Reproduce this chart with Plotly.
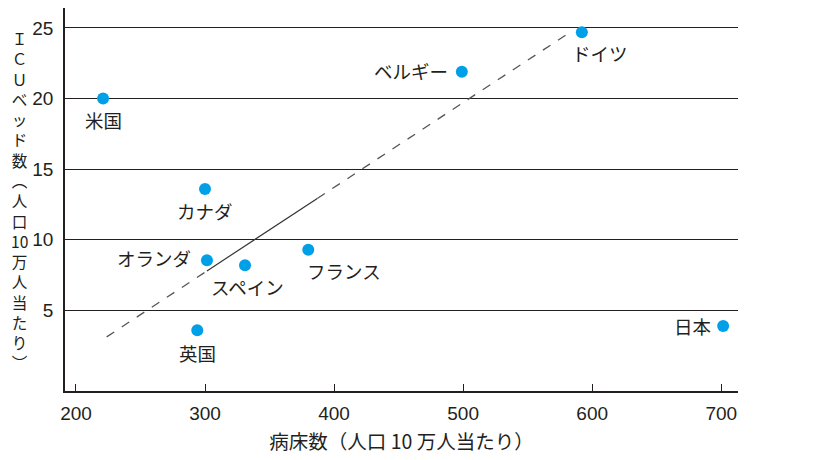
import plotly.graph_objects as go

# values
countries = ["米国", "カナダ", "オランダ", "スペイン", "フランス", "英国", "ベルギー", "ドイツ", "日本"]
beds = [221, 300, 301.5, 331, 380, 294, 499, 592, 701.5]
icu_beds = [20.0, 13.6, 8.55, 8.2, 9.3, 3.6, 21.9, 24.7, 3.9]

# trend line: dashed ends, solid middle
trend_x = [223.8, 301.5, 387, 581.4]
trend_y = [3.13, 7.8, 12.93, 24.6]

x_ticks = [200, 300, 400, 500, 600, 700]
y_ticks = [5, 10, 15, 20, 25]

ink = "#231f20"
dot = "#00a0e9"
jp_font = "Noto Sans CJK JP"
num_font = "Liberation Sans, Arial"

# where each country name sits relative to its dot (anchor, dx, dy in px)
label_pos = {
    "米国": ("center", 0, -21),
    "カナダ": ("center", 0, -22),
    "オランダ": ("right", -14, 2),
    "スペイン": ("center", 2, -22),
    "フランス": ("center", 36, -21),
    "英国": ("center", 0, -23),
    "ベルギー": ("right", -12, 1),
    "ドイツ": ("center", 18, -21),
    "日本": ("right", -10, 0),
}

fig = go.Figure()

fig.add_trace(go.Scatter(x=trend_x[:2], y=trend_y[:2], mode="lines",
                         line=dict(color="#555555", width=1.3, dash="dash")))
fig.add_trace(go.Scatter(x=trend_x[1:3], y=trend_y[1:3], mode="lines",
                         line=dict(color="#333333", width=1.2)))
fig.add_trace(go.Scatter(x=trend_x[2:], y=trend_y[2:], mode="lines",
                         line=dict(color="#555555", width=1.3, dash="dash")))

fig.add_trace(go.Scatter(x=beds, y=icu_beds, mode="markers",
                         marker=dict(color=dot, size=12, line=dict(width=0))))

for name, bx, by in zip(countries, beds, icu_beds):
    anchor, dx, dy = label_pos[name]
    fig.add_annotation(x=bx, y=by, xref="x", yref="y", text=name, showarrow=False,
                       xanchor=anchor, yanchor="middle", xshift=dx, yshift=dy,
                       font=dict(family=jp_font, size=18.5, color=ink))

# vertical y title, one character per line
y_title = ["Ｉ", "Ｃ", "Ｕ", "ベ", "ッ", "ド", "数", "︵", "人", "口", "10", "万", "人", "当", "た", "り", "︶"]
fig.add_annotation(xref="paper", yref="paper", x=-0.067, y=0.5, xanchor="center", yanchor="middle",
                   text="<br>".join(y_title), showarrow=False,
                   font=dict(family=jp_font, size=15.6, color=ink))

# page body adds an 8px margin, so the figure is a little smaller than the window
fig.update_layout(
    width=811, height=452,
    margin=dict(l=57, r=81, t=0, b=69),
    paper_bgcolor="white", plot_bgcolor="white",
    showlegend=False,
    font=dict(family=num_font, size=19, color=ink),
)
fig.update_xaxes(range=[191.5, 713], tickvals=x_ticks, showgrid=False, zeroline=False,
                 showline=True, linecolor=ink, linewidth=1.5,
                 ticks="inside", ticklen=7, tickwidth=1.3, tickcolor=ink,
                 ticklabelstandoff=4,
                 title=dict(text="病床数（人口 10 万人当たり）", standoff=13,
                            font=dict(family=jp_font, size=19.5, color=ink)))
fig.update_yaxes(range=[-0.7, 26.41], tickvals=y_ticks, showgrid=True, gridcolor=ink, gridwidth=1.3,
                 zeroline=False, showline=True, linecolor=ink, linewidth=1.5, ticks="",
                 ticklabelstandoff=6)

fig.write_html("out.html")
